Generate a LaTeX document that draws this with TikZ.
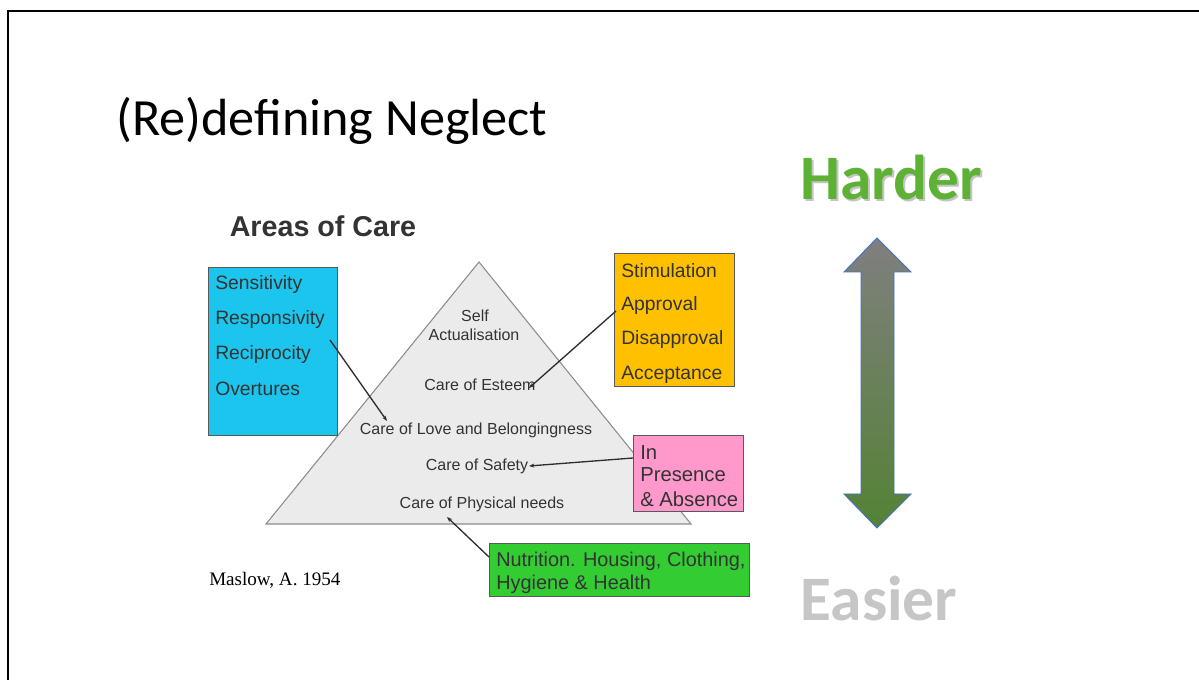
\documentclass[tikz,border=0pt]{standalone}
\usepackage{fontspec}
\setmainfont{Liberation Sans}
\newfontfamily\calibri{Carlito}
\newfontfamily\timesfont{Liberation Serif}
\usetikzlibrary{arrows.meta}

\definecolor{inktext}{HTML}{333333}
\definecolor{pyramidfill}{HTML}{EBEBEB}
\definecolor{pyramidline}{HTML}{8C8C8C}
\definecolor{boxline}{HTML}{595959}
\definecolor{cyanbox}{HTML}{1BC5EE}
\definecolor{amberbox}{HTML}{FFC000}
\definecolor{pinkbox}{HTML}{FF99CC}
\definecolor{greenbox}{HTML}{33CC33}
\definecolor{hardgreen}{HTML}{5DB236}
\definecolor{easygrey}{HTML}{C6C6C6}
\definecolor{arrowtop}{HTML}{7F7F7F}
\definecolor{arrowbottom}{HTML}{548235}
\definecolor{arrowedge}{HTML}{4472C4}

\tikzset{
  careitem/.style={font=\fontsize{14.5}{16}\selectfont, text=inktext, anchor=west, inner sep=0pt},
  wideitem/.style={careitem, font=\fontsize{15.2}{17}\selectfont},
  levelitem/.style={font=\fontsize{12}{13}\selectfont, text=inktext, inner sep=0pt},
  areabox/.style={draw=boxline, line width=0.8pt, anchor=north west, inner sep=0pt},
  linkline/.style={draw=inktext!90!black, line width=1pt, -{Stealth[length=4pt,width=3pt]}},
}

\begin{document}
\begin{tikzpicture}[x=0.75pt,y=-0.75pt]
  \useasboundingbox (0,0) rectangle (1199,680);
  \fill[white] (0,0) rectangle (1199,680);

  % slide frame
  \coordinate (frameTL) at (8,11);
  \coordinate (frameBL) at (8,680);
  \coordinate (frameTR) at (1199,11);
  \draw[line width=1.6pt] (frameBL) -- (frameTL) -- (frameTR);

  % title
  \node[anchor=west, inner sep=0pt, font=\calibri\fontsize{39.2}{41}\selectfont] (title) at (116,121) {(Re)defining Neglect};

  % heading
  \node[font=\bfseries\fontsize{21.5}{23}\selectfont, text=inktext, inner sep=0pt] (areas) at (323,226) {Areas of Care};

  % pyramid
  \coordinate (apex) at (479,262);
  \coordinate (baseL) at (266,524);
  \coordinate (baseR) at (691,524);
  \filldraw[fill=pyramidfill, draw=pyramidline, line width=0.8pt] (apex) -- (baseR) -- (baseL) -- cycle;

  \node[levelitem] (self) at (475,316) {Self};
  \node[levelitem] (actual) at (474,335) {Actualisation};
  \node[levelitem] (esteem) at (480,385) {Care of Esteem};
  \node[levelitem] (love) at (476,430) {Care of Love and Belongingness};
  \node[levelitem] (safety) at (477,466) {Care of Safety};
  \node[levelitem] (physical) at (482,504) {Care of Physical needs};

  % blue box
  \node[areabox, fill=cyanbox, minimum width=96.75pt, minimum height=126pt] (bluebox) at (208,267) {};
  \node[careitem] (sens) at (215,285) {Sensitivity};
  \node[careitem] (resp) at (215,320) {Responsivity};
  \node[careitem] (reci) at (215,355) {Reciprocity};
  \node[careitem] (over) at (215,389) {Overtures};

  % amber box
  \node[areabox, fill=amberbox, minimum width=90pt, minimum height=99.75pt] (amberbox) at (614,253) {};
  \node[careitem] (stim) at (621,271) {Stimulation};
  \node[careitem] (appr) at (621,306) {Approval};
  \node[careitem] (disa) at (621,340) {Disapproval};
  \node[careitem] (acce) at (621,375) {Acceptance};

  % pink box
  \node[areabox, fill=pinkbox, minimum width=82.5pt, minimum height=57pt] (pinkbox) at (633,435) {};
  \node[wideitem] (inp) at (640,453) {In};
  \node[wideitem] (pres) at (640,475) {Presence};
  \node[wideitem] (absn) at (640,499) {\& Absence};

  % green box
  \node[areabox, fill=greenbox, minimum width=195pt, minimum height=39.75pt] (greenbox) at (489,543) {};
  \node[careitem, font=\fontsize{14.9}{17}\selectfont] (nutr) at (496,561) {Nutrition. Housing, Clothing,};
  \node[careitem, font=\fontsize{14.9}{17}\selectfont] (hyg) at (496,584) {Hygiene \& Health};

  % connectors
  \coordinate (blueEnd) at (330,340);
  \coordinate (loveEnd) at (387,421);
  \coordinate (amberEnd) at (616,311);
  \coordinate (esteemEnd) at (529,388);
  \coordinate (pinkEnd) at (633,458);
  \coordinate (safetyEnd) at (529,466);
  \coordinate (greenEnd) at (489,557);
  \coordinate (physEnd) at (447,517);
  \draw[linkline] (blueEnd) -- (loveEnd);
  \draw[linkline] (amberEnd) -- (esteemEnd);
  \draw[linkline] (pinkEnd) -- (safetyEnd);
  \draw[linkline] (greenEnd) -- (physEnd);

  % reference
  \node[font=\timesfont\fontsize{14.3}{16}\selectfont, anchor=west, inner sep=0pt] (maslow) at (209,580) {Maslow, A. 1954};

  % difficulty scale
  \node[font=\calibri\bfseries\fontsize{47.5}{50}\selectfont, text=black!45, opacity=0.5, inner sep=0pt] at (893,180) {Harder};
  \node[font=\calibri\bfseries\fontsize{47.5}{50}\selectfont, text=hardgreen, inner sep=0pt] (harder) at (891,178) {Harder};
  \node[font=\calibri\bfseries\fontsize{47.5}{50}\selectfont, text=easygrey, inner sep=0pt] (easier) at (879,599) {Easier};

  \path[draw=arrowedge, line width=0.7pt, top color=arrowtop, bottom color=arrowbottom]
    (877,238) -- (911,272) -- (894,272) -- (894,494) -- (911,494) -- (877,528)
    -- (844,494) -- (861,494) -- (861,272) -- (844,272) -- cycle;
\end{tikzpicture}
\end{document}
